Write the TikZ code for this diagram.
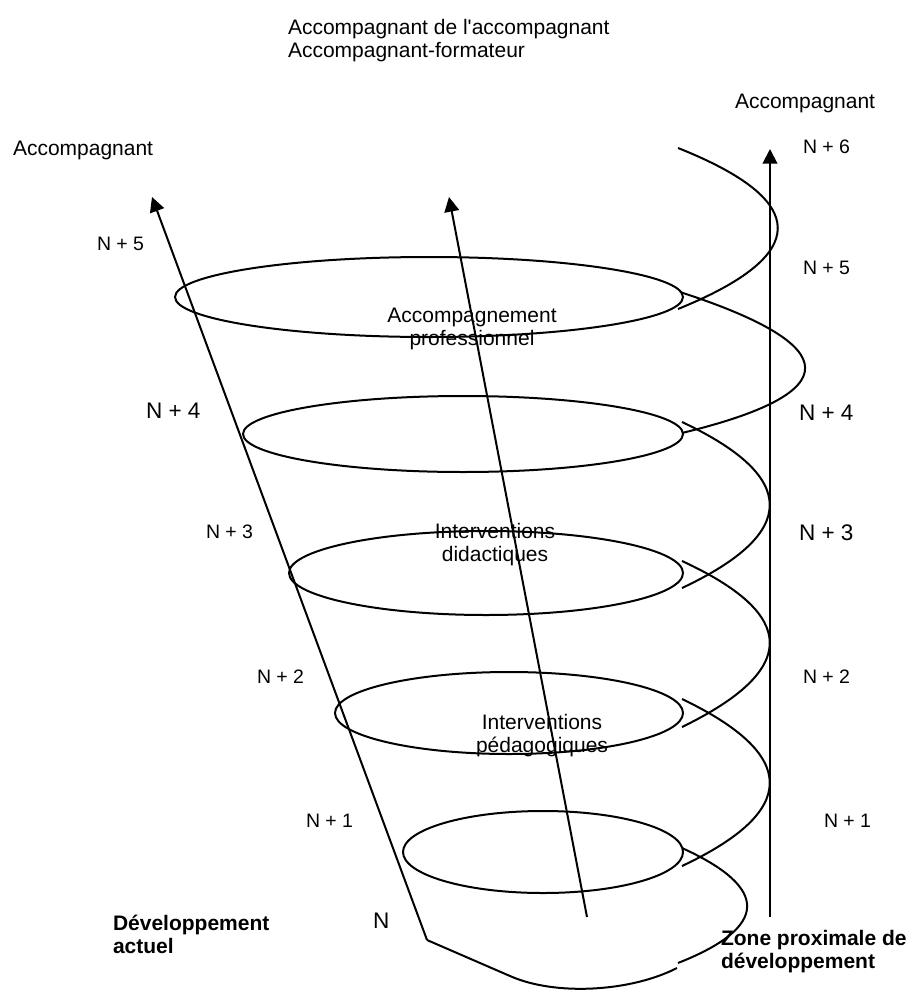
\documentclass[tikz,border=0pt]{standalone}
\usepackage{fontspec}
\setmainfont{Liberation Sans}[Ligatures=TeXOff]
\usetikzlibrary{arrows.meta}

\begin{document}
\begin{tikzpicture}[
  x=0.75pt, y=-0.75pt,
  every path/.style={line width=1.5pt},
  ar/.style={-{Triangle[length=11pt,width=11pt]}},
  txt/.style={inner sep=0, font=\fontsize{15.75}{17.25}\selectfont},
  lbl/.style={txt, anchor=base west},
  zone/.style={txt, anchor=base, align=center},
  bold/.style={lbl, align=left, font=\fontsize{15.75}{17.25}\selectfont\bfseries},
  nsmall/.style={inner sep=0, anchor=base west, font=\fontsize{14.6}{17}\selectfont},
  nbig/.style={inner sep=0, anchor=base west, font=\fontsize{16.9}{19}\selectfont}
  ] %
    \useasboundingbox (0,0) rectangle (912,992);
    % axes
    \coordinate (leftbot) at (427,940);
    \coordinate (lefttop) at (152,197);
    \coordinate (midbot) at (587,917);
    \coordinate (midtop) at (449,197);
    \coordinate (rightbot) at (770,917);
    \coordinate (righttop) at (770,149);
    \draw[ar] (leftbot) -- (lefttop);
    \draw[ar] (midbot) -- (midtop);
    \draw[ar] (rightbot) -- (righttop);
    % levels
    \draw (429,297) ellipse [x radius=254, y radius=40];
    \draw (463,434) ellipse [x radius=220, y radius=38];
    \draw (486,573) ellipse [x radius=197, y radius=42];
    \draw (509,713) ellipse [x radius=174, y radius=41];
    \draw (543,852) ellipse [x radius=140, y radius=41];
    % spiral
    \draw (678,148) .. controls (811,201) and (811,255) .. (678,309);
    \draw (680,292) .. controls (846,346) and (847,393) .. (682,433);
    \draw (682,422) .. controls (799,477) and (799,533) .. (682,588);
    \draw (682,561) .. controls (799,615) and (799,670) .. (682,727);
    \draw (682,699) .. controls (799,755) and (799,811) .. (682,866);
    \draw (682,848) .. controls (770,888) and (769,927) .. (678,963);
    \draw (677,968) .. controls (630,992) and (555,996) .. (510,976) -- (leftbot);
    % labels
    \node[lbl] (acc1) at (287,34) {Accompagnant de l'accompagnant};
    \node[lbl] (acc2) at (287,57) {Accompagnant-formateur};
    \node[lbl] (accR) at (734,108) {Accompagnant};
    \node[lbl] (accL) at (12,155) {Accompagnant};
    \node[zone] (pro) at (472,345) {Accompagnement\\professionnel};
    \node[zone] (did) at (495,561) {Interventions\\didactiques};
    \node[zone] (ped) at (542,752) {Interventions\\pédagogiques};
    \node[bold] (dev) at (112,953) {Développement\\actuel};
    \node[bold] (zpd) at (720,968) {Zone proximale de\\développement};
    \node[nbig] (n0) at (372,928) {N};
    \node[nsmall] (l1) at (305,827) {N + 1};
    \node[nsmall] (l2) at (256,683) {N + 2};
    \node[nsmall] (l3) at (205,538) {N + 3};
    \node[nbig] (l4) at (145,418) {N + 4};
    \node[nsmall] (l5) at (96,250) {N + 5};
    \node[nsmall] (r1) at (823,827) {N + 1};
    \node[nsmall] (r2) at (802,683) {N + 2};
    \node[nbig] (r3) at (798,540) {N + 3};
    \node[nbig] (r4) at (798,420) {N + 4};
    \node[nsmall] (r5) at (802,274) {N + 5};
    \node[nsmall] (r6) at (802,153) {N + 6};
  \end{tikzpicture}
\end{document}
